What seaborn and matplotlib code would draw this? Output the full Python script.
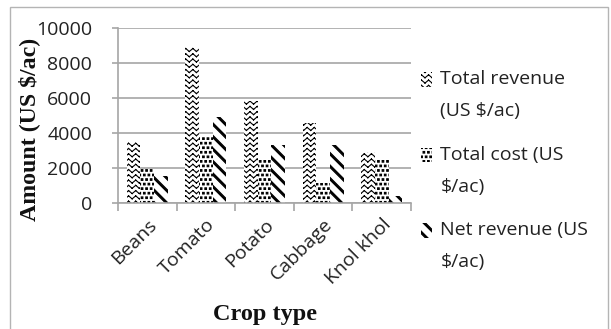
import warnings
warnings.filterwarnings("ignore")
import numpy as np
import pandas as pd
import matplotlib
matplotlib.use("Agg")
import matplotlib.pyplot as plt
import matplotlib.hatch as mhatch
from matplotlib.path import Path
from matplotlib.patches import Rectangle
from matplotlib.legend_handler import HandlerPatch
import seaborn as sns

# ---------------- data ----------------
crops = ["Beans", "Tomato", "Potato", "Cabbage", "Knol khol"]
total_revenue = [3500, 8900, 5800, 4550, 2900]
total_cost = [1950, 3850, 2500, 1150, 2500]
net_revenue = [1550, 4900, 3300, 3300, 400]
series_labels = ["Total revenue\n(US $/ac)", "Total cost (US\n$/ac)", "Net revenue (US\n$/ac)"]
y_ticks = [0, 2000, 4000, 6000, 8000, 10000]


# ---------------- custom hatches ----------------
class ZigzagHatch(mhatch.HatchPatternBase):
    """chevron rows ('z')"""
    def __init__(self, hatch, density):
        self.on = 'z' in hatch
        self.rows = 19
        self.teeth = 14
        self.num_vertices = (self.rows * self.teeth * 2 * 2) if self.on else 0

    def set_vertices_and_codes(self, vertices, codes):
        amp = 0.015
        i = 0
        for r in range(self.rows):
            yc = (r + 0.5) / self.rows
            xs = np.linspace(0, 1, 2 * self.teeth + 1)
            ys = np.where(np.arange(len(xs)) % 2 == 0, yc + amp, yc - amp)
            for k in range(len(xs) - 1):
                vertices[i] = (xs[k], ys[k]); codes[i] = Path.MOVETO; i += 1
                vertices[i] = (xs[k + 1], ys[k + 1]); codes[i] = Path.LINETO; i += 1


class SquareDots(mhatch.HatchPatternBase):
    """staggered small squares ('q')"""
    def __init__(self, hatch, density):
        self.on = 'q' in hatch
        self.n = 22
        self.num_vertices = (self.n * self.n * 5) if self.on else 0

    def set_vertices_and_codes(self, vertices, codes):
        s = 0.008
        i = 0
        step = 1.0 / self.n
        for r in range(self.n):
            yc = (r + 0.5) * step
            off = 0.5 * step if r % 2 else 0.0
            for c in range(self.n):
                xc = (c * step + off + 0.25 * step) % 1.0
                pts = [(xc - s, yc - s), (xc + s, yc - s), (xc + s, yc + s), (xc - s, yc + s), (xc - s, yc - s)]
                for j, p in enumerate(pts):
                    vertices[i] = p
                    codes[i] = Path.MOVETO if j == 0 else (Path.CLOSEPOLY if j == 4 else Path.LINETO)
                    i += 1


class ThickDiag(mhatch.HatchPatternBase):
    """thick back-diagonal stripes ('n')"""
    def __init__(self, hatch, density):
        self.on = 'n' in hatch
        self.n = 8
        self.num_vertices = (2 * self.n + 1) * 5 if self.on else 0

    def set_vertices_and_codes(self, vertices, codes):
        w = 0.026
        i = 0
        for k in range(-self.n, self.n + 1):
            x0 = k / self.n
            pts = [(x0, 1.0), (x0 + w, 1.0), (x0 + w + 1.0, 0.0), (x0 + 1.0, 0.0), (x0, 1.0)]
            for j, p in enumerate(pts):
                vertices[i] = p
                codes[i] = Path.MOVETO if j == 0 else (Path.CLOSEPOLY if j == 4 else Path.LINETO)
                i += 1


mhatch._hatch_types.extend([ZigzagHatch, SquareDots, ThickDiag])
hatches = ['z', 'q', 'n']

# ---------------- figure ----------------
sns.set_style("white")
plt.rcParams['font.family'] = ['Open Sans', 'DejaVu Sans']
plt.rcParams['hatch.linewidth'] = 0.8

W, H = 611, 329
fig = plt.figure(figsize=(W / 100, H / 100), dpi=100)
ax = fig.add_axes([118 / W, 1 - 203 / H, (411 - 118) / W, (203 - 28) / H])

df = pd.DataFrame({
    "crop": crops * 3,
    "series": sum([[lab] * len(crops) for lab in series_labels], []),
    "value": total_revenue + total_cost + net_revenue,
})

sns.barplot(data=df, x="crop", y="value", hue="series", hue_order=series_labels,
            order=crops, palette=["white"] * 3, edgecolor="black", linewidth=0,
            width=0.7, errorbar=None, legend=False, ax=ax)

bars = sorted([p for p in ax.patches if isinstance(p, Rectangle)], key=lambda p: p.get_x())
handles = [None, None, None]
for idx, b in enumerate(bars):
    s = idx % 3
    b.set_hatch(hatches[s])
    b.set_facecolor("white")
    b.set_edgecolor("black")
    b.set_linewidth(0)
    if handles[s] is None:
        handles[s] = b

grid_c = "#a6a6a6"
ax.set_ylim(0, 10000)
ax.set_xlim(-0.5, len(crops) - 0.5)
ax.set_yticks(y_ticks)
ax.set_yticklabels([str(v) for v in y_ticks])
ax.yaxis.grid(True, color=grid_c, linewidth=1.2)
ax.set_axisbelow(True)
for sp in ["top", "right"]:
    ax.spines[sp].set_visible(False)
ax.spines["left"].set_color(grid_c)
ax.spines["bottom"].set_color(grid_c)
ax.spines["left"].set_linewidth(1.2)
ax.spines["bottom"].set_linewidth(1.2)

ax.tick_params(axis="y", direction="out", length=4.5, width=1.2, color=grid_c,
               pad=14, labelsize=14, labelcolor="#222222", left=True)
ax.set_xticks(np.arange(len(crops)))
ax.set_xticklabels(crops, rotation=45, ha="right", rotation_mode="anchor")
ax.set_xticks(np.arange(-0.5, len(crops), 1.0), minor=True)
ax.tick_params(axis="x", which="major", length=0, pad=9, labelsize=14, labelcolor="#222222")
ax.tick_params(axis="x", which="minor", direction="out", length=6, width=1.2, color=grid_c, bottom=True)
ax.set_xlabel("")
ax.set_ylabel("")

serif = ["Liberation Serif", "DejaVu Serif"]
fig.text(29 / W, 1 - 129 / H, "Amount (US $/ac)", rotation=90, ha="center", va="center",
         fontsize=17.2, fontweight="bold", family=serif, color="#111111")
fig.text(265 / W, 1 - 320 / H, "Crop type", ha="center", va="baseline",
         fontsize=17.5, fontweight="bold", family=serif, color="#111111")


def top_aligned_patch(legend, orig_handle, xdescent, ydescent, width, height, fontsize):
    shift = 11.5  # points: move handle up to the first text line
    return Rectangle((-xdescent, -ydescent + shift), width, height)


leg = ax.legend(handles=handles, labels=series_labels, loc="upper left",
                bbox_to_anchor=(421 / W, 1 - 70 / H), bbox_transform=fig.transFigure,
                frameon=False, handlelength=0.55, handleheight=0.8, handletextpad=0.45,
                labelspacing=1.32, borderaxespad=0, borderpad=0,
                handler_map={Rectangle: HandlerPatch(patch_func=top_aligned_patch)},
                prop={"family": ["Open Sans", "DejaVu Sans"], "size": 14})
for t in leg.get_texts():
    t.set_linespacing(2.0)
    t.set_color("#222222")

# chart-area border
fig.patches.append(Rectangle((10 / W, -0.1), (608 - 10) / W, 1.1 - 7 / H,
                             transform=fig.transFigure, fill=False,
                             edgecolor="#b4b4b4", linewidth=1.0))

fig.savefig("out.png", dpi=100)
